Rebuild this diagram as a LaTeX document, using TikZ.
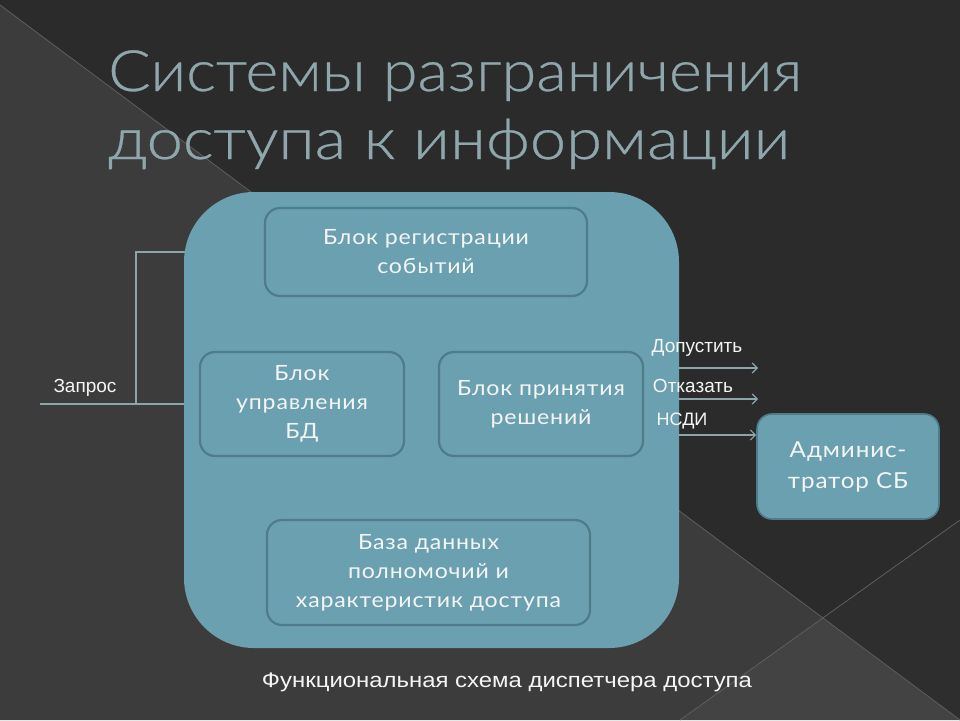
\documentclass[tikz,border=0pt]{standalone}
\usepackage{fontspec}
\setmainfont{Lato}
\newfontfamily\arialfont{Liberation Sans}
\newfontfamily\boxfont[FakeStretch=1.1,LetterSpace=4]{Lato}
\IfFontExistsTF{Lato Light}{\newfontfamily\titlefont[FakeBold=0.5]{Lato Light}}{\newfontfamily\titlefont{Lato}}
\usetikzlibrary{arrows.meta,calc}
\definecolor{bgtop}{HTML}{2B2B2B}
\definecolor{bgleft}{HTML}{3C3C3C}
\definecolor{bgbot}{HTML}{434343}
\definecolor{bgright}{HTML}{2E2E2E}
\definecolor{bgline}{HTML}{5E5E5E}
\definecolor{teal}{HTML}{6AA0AF}
\definecolor{tealdark}{HTML}{4E7C8A}
\definecolor{titlecol}{HTML}{8FA7AC}
\definecolor{linecol}{HTML}{8CA5AB}
\definecolor{txt}{HTML}{F4F6F6}
\tikzset{
  bigbox/.style={fill=teal, draw=none, rounded corners=70pt, inner sep=0pt},
  innerbox/.style={fill=teal, draw=tealdark, line width=2.2pt, rounded corners=15pt,
    text=txt, align=center, inner sep=0pt, font=\boxfont\fontsize{21}{29}\selectfont},
  adminbox/.style={fill=teal, draw=tealdark, line width=1.6pt, rounded corners=15pt,
    text=txt, align=center, inner sep=0pt, font=\boxfont\fontsize{22}{31}\selectfont},
  wire/.style={draw=linecol, line width=1.3pt},
  outarrow/.style={draw=linecol, line width=1.2pt, -{Straight Barb[length=5pt,width=10pt]}},
  lbl/.style={text=txt, font=\arialfont\fontsize{19}{21}\selectfont, inner sep=0pt},
  titletext/.style={text=titlecol, font=\titlefont\fontsize{57}{60}\selectfont, inner sep=0pt, anchor=base west},
}
\begin{document}
\begin{tikzpicture}[x=1pt,y=-1pt]
\useasboundingbox (0,0) rectangle (960,720);
% background
\fill[bgtop] (0,0) rectangle (960,720);
\coordinate (c) at (intersection of 0,5--960,720 and 680,720--960,520);
\fill[bgleft] (0,5) -- (c) -- (680,720) -- (0,720) -- cycle;
\fill[bgbot] (680,720) -- (c) -- (960,720) -- cycle;
\fill[bgright] (c) -- (960,520) -- (960,720) -- cycle;
\draw[bgline, line width=0.8pt] (0,5) -- (960,720);
\draw[bgline, line width=0.8pt] (680,720) -- (960,520);
% title
\node[titletext] (t1) at (108,91) {\resizebox{694pt}{\height}{Системы разграничения}};
\node[titletext] (t2) at (108,159) {\resizebox{682pt}{\height}{доступа к информации}};
% connectors to the left
\coordinate (zin) at (40,404);
\coordinate (jb) at (136,404);
\coordinate (jt) at (136,252);
\draw[wire] (zin) -- (200,404);
\draw[wire] (jb) -- (jt) -- (200,252);
% big box
\node[bigbox, minimum width=495pt, minimum height=456pt] (big) at (431.5,420) {};
\node[innerbox, minimum width=322pt, minimum height=88pt] (reg) at (426,252) {Блок регистрации\\событий};
\node[innerbox, minimum width=204pt, minimum height=104pt] (upr) at (302,404) {Блок\\управления\\БД};
\node[innerbox, minimum width=204pt, minimum height=104pt] (pri) at (541,404) {Блок принятия\\решений};
\node[innerbox, minimum width=323pt, minimum height=105pt] (bd) at (428.5,572.5) {База данных\\полномочий и\\характеристик доступа};
\node[adminbox, minimum width=182pt, minimum height=105pt] (adm) at (848,466.5) {Админис-\\тратор СБ};
% labels
\node[lbl] (zap) at (85,388) {Запрос};
\node[lbl] (dop) at (697,348) {Допустить};
\node[lbl] (otk) at (693,386) {Отказать};
\node[lbl, font=\arialfont\fontsize{18}{20}\selectfont] (nsdi) at (682,421) {НСДИ};
% output arrows
\coordinate (a1) at (758,368);
\coordinate (a2) at (758,399);
\coordinate (a3) at (0,435);
\draw[outarrow] (big.east |- a1) -- (a1);
\draw[outarrow] (big.east |- a2) -- (a2);
\draw[outarrow] (big.east |- a3) -- (adm.west |- a3);
% caption
\node[text=txt, font=\arialfont\fontsize{21}{23}\selectfont, inner sep=0pt] (cap) at (507,682) {\resizebox{490pt}{\height}{Функциональная схема диспетчера доступа}};
\end{tikzpicture}
\end{document}
